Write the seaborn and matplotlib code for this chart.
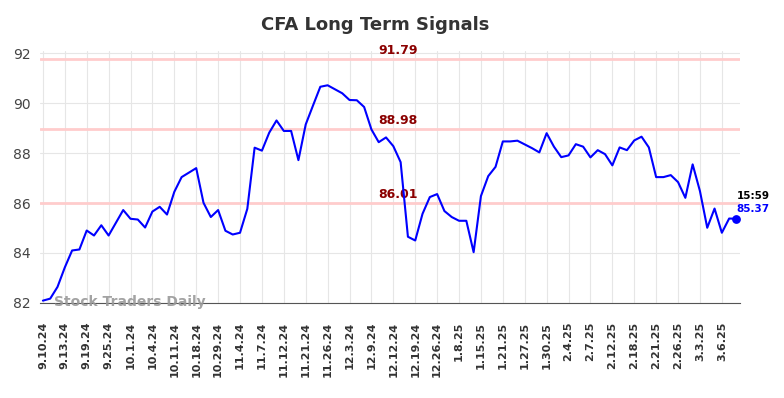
import seaborn as sns
import numpy as np
import pandas as pd
import matplotlib.pyplot as plt

# closing values, one per session
prices = [
    82.09, 82.17, 82.64, 83.42, 84.10, 84.14, 84.90, 84.70, 85.11, 84.70,
    85.21, 85.72, 85.37, 85.34, 85.02, 85.66, 85.85, 85.54, 86.45, 87.04,
    87.22, 87.40, 86.01, 85.44, 85.72, 84.89, 84.74, 84.81, 85.77, 88.22,
    88.10, 88.82, 89.31, 88.89, 88.89, 87.72, 89.15, 89.91, 90.66, 90.72,
    90.56, 90.40, 90.13, 90.12, 89.85, 88.95, 88.44, 88.63, 88.28, 87.64,
    84.65, 84.50, 85.57, 86.24, 86.36, 85.68, 85.44, 85.29, 85.29, 84.03,
    86.28, 87.08, 87.45, 88.47, 88.47, 88.50, 88.35, 88.20, 88.03, 88.80,
    88.26, 87.84, 87.91, 88.36, 88.26, 87.83, 88.12, 87.96, 87.51, 88.23,
    88.12, 88.51, 88.66, 88.23, 87.04, 87.04, 87.12, 86.84, 86.21, 87.55,
    86.48, 85.01, 85.78, 84.81, 85.38, 85.37,
]
tick_labels = [
    "9.10.24", "9.13.24", "9.19.24", "9.25.24", "10.1.24", "10.4.24",
    "10.11.24", "10.18.24", "10.29.24", "11.4.24", "11.7.24", "11.12.24",
    "11.21.24", "11.26.24", "12.3.24", "12.9.24", "12.12.24", "12.19.24",
    "12.26.24", "1.8.25", "1.15.25", "1.21.25", "1.27.25", "1.30.25",
    "2.4.25", "2.7.25", "2.12.25", "2.18.25", "2.21.25", "2.26.25",
    "3.3.25", "3.6.25",
]
signal_levels = [91.79, 88.98, 86.01]
last_time = "15:59"

df = pd.DataFrame({"idx": np.arange(len(prices)), "price": prices})

sns.set_style("whitegrid", {"grid.color": "#e6e6e6"})
plt.rcParams["font.family"] = ["DejaVu Sans"]

fig = plt.figure(figsize=(7.84, 3.98), dpi=100)
ax = fig.add_axes([0.051, 0.239, 0.893, 0.632])

for lvl in signal_levels:
    ax.axhline(lvl, color="#ffcccc", lw=2, zorder=1)
    ax.text(48.6, lvl + 0.08, f"{lvl:.2f}", color="#8b0000", fontsize=9,
            fontweight="bold", ha="center", va="bottom")

sns.lineplot(data=df, x="idx", y="price", color="#0000ff", lw=1.5, ax=ax, zorder=3)
ax.scatter([df.idx.iloc[-1]], [df.price.iloc[-1]], color="#0000ff", s=28, zorder=4)

ax.text(df.idx.iloc[-1], df.price.iloc[-1] + 0.7, last_time, fontsize=7.5,
        fontweight="bold", color="black", ha="left", va="bottom")
ax.text(df.idx.iloc[-1], df.price.iloc[-1] + 0.2, f"{prices[-1]:.2f}", fontsize=7.5,
        fontweight="bold", color="#0000ff", ha="left", va="bottom")

ax.text(1.5, 82.02, "Stock Traders Daily", fontsize=10, fontweight="bold",
        color="#999999", ha="left", va="center", alpha=0.9)

ax.set_xticks(np.arange(0, len(tick_labels) * 3, 3))
ax.set_xticklabels(tick_labels, rotation=90, fontsize=8, fontweight="bold", color="#333333")
ax.tick_params(axis="x", pad=10)
ax.set_yticks(np.arange(82, 93, 2))
ax.tick_params(axis="y", labelsize=10, colors="#444444")
ax.set_xlim(-0.4, 95.5)
ax.set_ylim(82, 92.08)
ax.set_xlabel("")
ax.set_ylabel("")

for s in ["left", "right", "top"]:
    ax.spines[s].set_visible(False)
ax.spines["bottom"].set_color("#555555")

fig.suptitle("CFA Long Term Signals", x=0.478, y=0.96, fontsize=13,
             fontweight="bold", color="#333333")

fig.savefig("out.png", dpi=100)
